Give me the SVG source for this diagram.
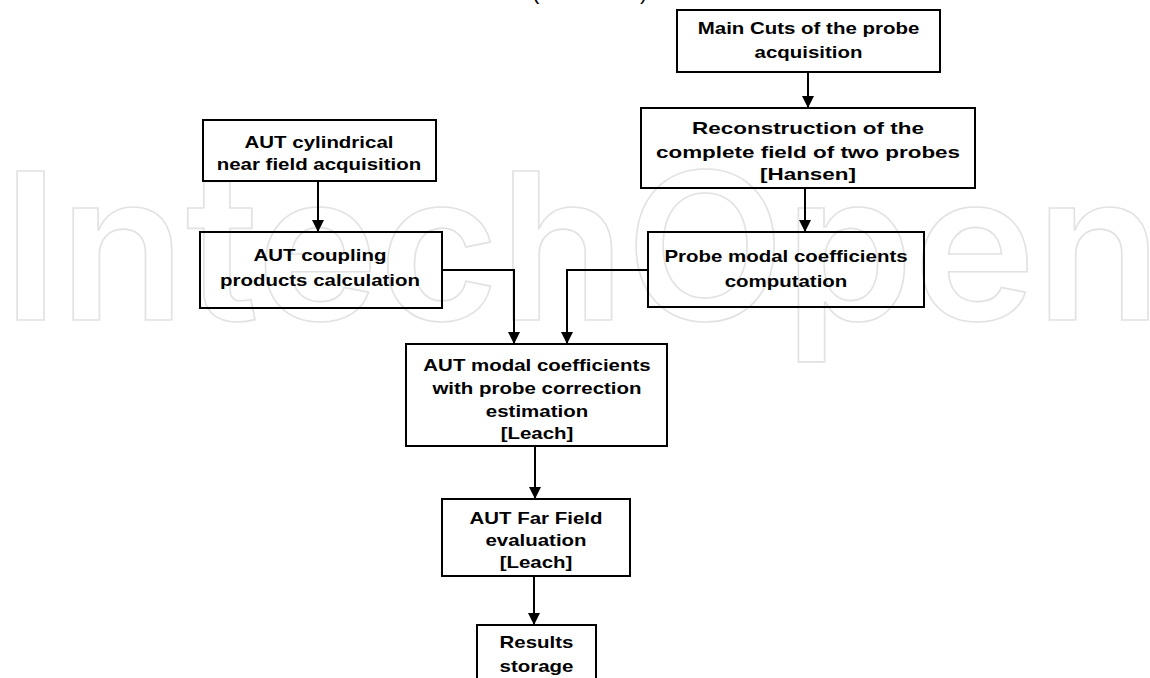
<svg xmlns="http://www.w3.org/2000/svg" width="1150" height="678" viewBox="0 0 1150 678">
<defs>
<marker id="arrow" viewBox="0 0 10 10" refX="10" refY="5" markerWidth="12" markerHeight="12" markerUnits="userSpaceOnUse" orient="auto">
<path d="M0,0 L10,5 L0,10 z" fill="#000"/>
</marker>
</defs>
<style>
.box{fill:none;stroke:#000;stroke-width:2}
.lbl{font-family:"Liberation Sans",Arial,sans-serif;font-weight:bold;font-size:16.5px;text-anchor:middle;fill:#000}
.conn{fill:none;stroke:#000;stroke-width:2;marker-end:url(#arrow)}
.wm{font-family:Inter,"Liberation Sans",sans-serif;font-weight:600;font-size:205px;fill:none;stroke:#e2e2e2;stroke-width:1.6}
.par{font-family:"Liberation Sans",Arial,sans-serif;font-size:22px;fill:#000}
</style>
<rect width="1150" height="678" fill="#fff"/>
<text class="wm" x="2" y="320" textLength="1160" lengthAdjust="spacingAndGlyphs">IntechOpen</text>
<text class="par" x="532" y="-1">(</text>
<text class="par" x="640" y="-1">)</text>

<g id="connectors">
<line class="conn" x1="808" y1="72" x2="808" y2="108"/>
<line class="conn" x1="805" y1="188" x2="805" y2="232"/>
<line class="conn" x1="318" y1="182" x2="318" y2="232"/>
<polyline class="conn" points="442,270 514,270 514,344"/>
<polyline class="conn" points="648,270 567,270 567,344"/>
<line class="conn" x1="535" y1="446" x2="535" y2="499"/>
<line class="conn" x1="534" y1="576" x2="534" y2="625"/>
</g>

<g id="node-main-cuts">
<rect class="box" x="677" y="10" width="263" height="62"/>
<text class="lbl" transform="translate(808.5 0) scale(1.24 1)"><tspan x="0" y="34">Main Cuts of the probe</tspan><tspan x="0" y="58">acquisition</tspan></text>
</g>

<g id="node-reconstruction">
<rect class="box" x="641" y="108" width="334" height="80"/>
<text class="lbl" transform="translate(808 0) scale(1.36 1)"><tspan x="0" y="134">Reconstruction of the</tspan><tspan x="0" y="158">complete field of two probes</tspan><tspan x="0" y="180">[Hansen]</tspan></text>
</g>

<g id="node-probe-modal">
<rect class="box" x="648" y="232" width="276" height="75"/>
<text class="lbl" transform="translate(786 0) scale(1.24 1)"><tspan x="0" y="262">Probe modal coefficients</tspan><tspan x="0" y="287">computation</tspan></text>
</g>

<g id="node-aut-cylindrical">
<rect class="box" x="203" y="120" width="233" height="61"/>
<text class="lbl" transform="translate(319 0) scale(1.24 1)"><tspan x="0" y="148">AUT cylindrical</tspan><tspan x="0" y="170">near field acquisition</tspan></text>
</g>

<g id="node-aut-coupling">
<rect class="box" x="200" y="232" width="242" height="76"/>
<text class="lbl" transform="translate(320 0) scale(1.24 1)"><tspan x="0" y="261">AUT coupling</tspan><tspan x="0" y="286">products calculation</tspan></text>
</g>

<g id="node-aut-modal">
<rect class="box" x="406" y="344" width="261" height="102"/>
<text class="lbl" transform="translate(537 0) scale(1.24 1)"><tspan x="0" y="371">AUT modal coefficients</tspan><tspan x="0" y="394">with probe correction</tspan><tspan x="0" y="417">estimation</tspan><tspan x="0" y="439">[Leach]</tspan></text>
</g>

<g id="node-far-field">
<rect class="box" x="442" y="499" width="188" height="77"/>
<text class="lbl" transform="translate(536 0) scale(1.24 1)"><tspan x="0" y="524">AUT Far Field</tspan><tspan x="0" y="546">evaluation</tspan><tspan x="0" y="568">[Leach]</tspan></text>
</g>

<g id="node-results">
<rect class="box" x="477" y="625" width="119" height="60"/>
<text class="lbl" transform="translate(536.5 0) scale(1.24 1)"><tspan x="0" y="648">Results</tspan><tspan x="0" y="672">storage</tspan></text>
</g>
</svg>
